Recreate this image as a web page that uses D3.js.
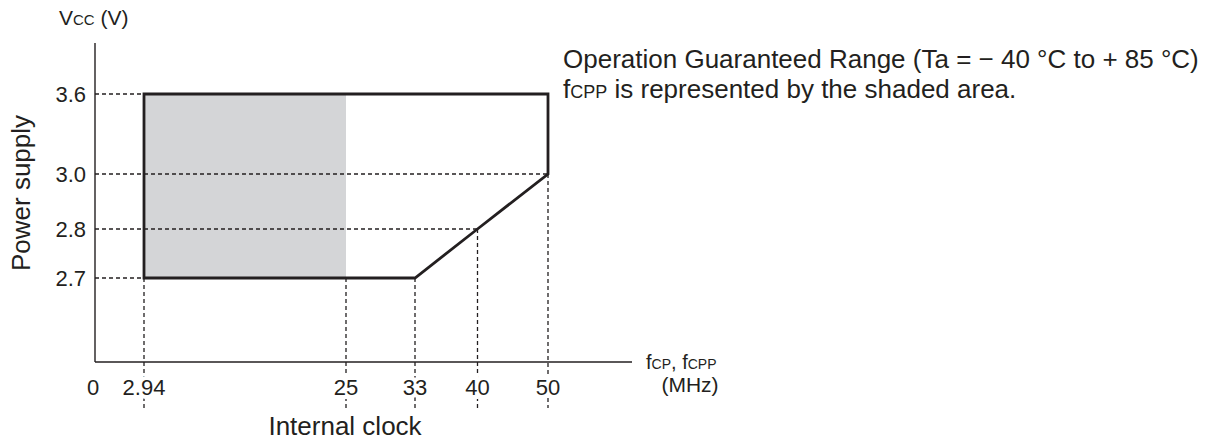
<!DOCTYPE html>
<html>
<head>
<meta charset="utf-8">
<script src="https://cdn.jsdelivr.net/npm/d3@7"></script>
<style>
  body { margin: 0; background: #fff; }
  svg text { font-family: "Liberation Sans", Arial, Helvetica, sans-serif; fill: #231f20; }
</style>
</head>
<body>
<svg id="chart" width="1222" height="442"></svg>
<script>
// tick values (the chart is schematic, so each tick gets its own spot)
const xTicks = [0, 2.94, 25, 33, 40, 50];
const xTickPos = [95, 144, 346, 415, 477.5, 548];
const yTicks = [2.7, 2.8, 3.0, 3.6];
const yTickPos = [278, 229, 174, 94];

// operating range outline (MHz, V)
const rangeFreq = [2.94, 50, 50, 40, 33, 2.94];
const rangeVolt = [3.6, 3.6, 3.0, 2.8, 2.7, 2.7];

// shaded fCPP area
const shadeFreq = [2.94, 25];
const shadeVolt = [2.7, 3.6];

// dashed guides: horizontal (volt -> freq) and vertical (freq -> volt)
const hGuideVolt = [3.6, 3.0, 2.8, 2.7];
const hGuideFreq = [2.94, 50, 40, 2.94];
const vGuideFreq = [2.94, 25, 33, 40, 50];
const vGuideVolt = [2.7, 2.7, 2.7, 2.8, 3.0];

const x = d3.scaleLinear().domain(xTicks).range(xTickPos);
const y = d3.scaleLinear().domain(yTicks).range(yTickPos);

const svg = d3.select('#chart');
const ink = '#231f20';
const axisY0 = 362, axisTop = 43, axisRight = 632, guideBottom = 408;

// shaded rectangle
svg.append('rect')
   .attr('x', x(shadeFreq[0]))
   .attr('y', y(shadeVolt[1]))
   .attr('width', x(shadeFreq[1]) - x(shadeFreq[0]))
   .attr('height', y(shadeVolt[0]) - y(shadeVolt[1]))
   .attr('fill', '#d4d5d7');

// dashed guides
const dash = '4,3';
hGuideVolt.forEach((v, i) => {
   svg.append('line')
      .attr('x1', x(0)).attr('x2', x(hGuideFreq[i]))
      .attr('y1', y(v)).attr('y2', y(v))
      .attr('stroke', ink).attr('stroke-width', 1.3)
      .attr('stroke-dasharray', dash);
});
vGuideFreq.forEach((f, i) => {
   svg.append('line')
      .attr('x1', x(f)).attr('x2', x(f))
      .attr('y1', y(vGuideVolt[i])).attr('y2', guideBottom)
      .attr('stroke', ink).attr('stroke-width', 1.3)
      .attr('stroke-dasharray', dash);
});

// axes
svg.append('line')
   .attr('x1', x(0)).attr('x2', x(0))
   .attr('y1', axisTop).attr('y2', axisY0)
   .attr('stroke', ink).attr('stroke-width', 1.4);
svg.append('line')
   .attr('x1', x(0)).attr('x2', axisRight)
   .attr('y1', axisY0).attr('y2', axisY0)
   .attr('stroke', ink).attr('stroke-width', 1.4);

// range outline
const pts = rangeFreq.map((f, i) => [x(f), y(rangeVolt[i])]);
svg.append('path')
   .attr('d', d3.line()(pts) + 'Z')
   .attr('fill', 'none')
   .attr('stroke', ink)
   .attr('stroke-width', 2.8)
   .attr('stroke-linejoin', 'miter');

// tick labels
svg.selectAll('.xlab')
   .data(xTicks)
   .join('text')
   .attr('x', d => x(d) - (d === 0 ? 2 : 0))
   .attr('y', 395)
   .attr('text-anchor', 'middle')
   .attr('font-size', 22)
   .attr('stroke', '#fff').attr('stroke-width', 8)
   .attr('paint-order', 'stroke')
   .text(d => d);

svg.selectAll('.ylab')
   .data(yTicks)
   .join('text')
   .attr('x', 86)
   .attr('y', d => y(d) + 8)
   .attr('text-anchor', 'end')
   .attr('font-size', 22)
   .text(d => d.toFixed(1));

// axis titles
const vcc = svg.append('text').attr('x', 59).attr('y', 25).attr('font-size', 21);
vcc.append('tspan').text('V');
vcc.append('tspan').attr('font-size', 15).text('CC');
vcc.append('tspan').text(' (V)');

svg.append('text')
   .attr('transform', 'translate(30,193) rotate(-90)')
   .attr('text-anchor', 'middle')
   .attr('font-size', 26)
   .text('Power supply');

svg.append('text')
   .attr('x', 345).attr('y', 435)
   .attr('text-anchor', 'middle')
   .attr('font-size', 26)
   .text('Internal clock');

const fl = svg.append('text').attr('x', 646).attr('y', 369).attr('font-size', 20);
fl.append('tspan').text('f');
fl.append('tspan').attr('font-size', 14).text('CP');
fl.append('tspan').text(', f');
fl.append('tspan').attr('font-size', 14).text('CPP');
svg.append('text')
   .attr('x', 690).attr('y', 392)
   .attr('text-anchor', 'middle')
   .attr('font-size', 21)
   .text('(MHz)');

// note text
svg.append('text')
   .attr('x', 563).attr('y', 68)
   .attr('font-size', 26)
   .text('Operation Guaranteed Range (Ta = \u2212 40 °C to + 85 °C)');
const n2 = svg.append('text').attr('x', 563).attr('y', 98).attr('font-size', 26);
n2.append('tspan').text('f');
n2.append('tspan').attr('font-size', 18).text('CPP');
n2.append('tspan').text(' is represented by the shaded area.');
</script>
</body>
</html>
